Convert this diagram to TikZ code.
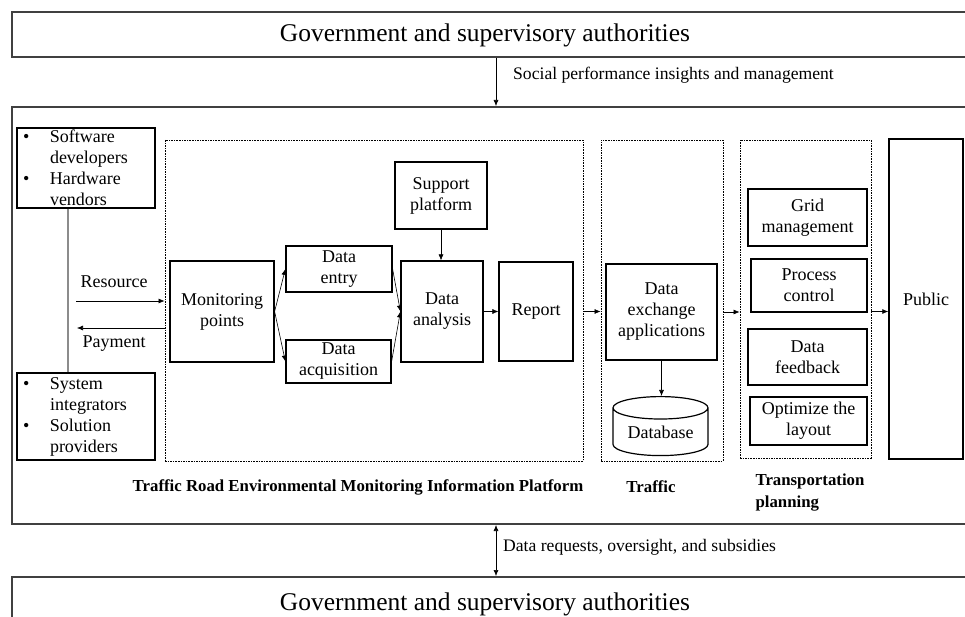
\documentclass[tikz,border=0pt]{standalone}
\usepackage{fontspec}
\setmainfont{Liberation Serif}
\usetikzlibrary{arrows.meta,shapes.geometric}

\newcommand{\bxfont}{\fontsize{18}{21}\selectfont}
\newcommand{\govfont}{\fontsize{25.5}{28}\selectfont}
\newcommand{\capfont}{\fontsize{16.8}{22}\selectfont\bfseries}

\tikzset{govbox/.style={draw=black!75, line width=2pt, inner sep=0pt}}
\tikzset{blk/.style={draw, line width=1.2pt, inner sep=0pt, align=center, font=\bxfont}}
\tikzset{zone/.style={draw, line width=0.9pt, dash pattern=on 1.6pt off 1pt, inner sep=0pt}}
\tikzset{arr/.style={-{Latex[length=6pt, width=5pt]}, line width=0.6pt}}
\tikzset{darr/.style={{Latex[length=6pt, width=5pt]}-{Latex[length=6pt, width=5pt]}, line width=0.6pt}}
\tikzset{gline/.style={line width=1.2pt, color=black!45}}
\tikzset{lbl/.style={inner sep=0pt, font=\bxfont}}
\tikzset{who/.style={blk, align=left, text width=126pt, minimum width=138pt}}

\begin{document}
\begin{tikzpicture}[x=1pt, y=-1pt]
        \useasboundingbox (0,0) rectangle (965,617);

        \node[govbox, minimum width=963pt, minimum height=45pt] (gtop) at (493.5, 34.5) {};
        \node[font=\govfont] (gtoptxt) at (485, 35) {Government and supervisory authorities};
        \node[govbox, minimum width=963pt, minimum height=417pt] (outer) at (493.5, 315.5) {};
        \node[govbox, minimum width=963pt, minimum height=63pt] (gbot) at (493.5, 608.5) {};
        \node[font=\govfont] (gbottxt) at (485, 604) {Government and supervisory authorities};

        \coordinate (link) at (496, 0);
        \draw [arr] (gtop.south -| link) -- (outer.north -| link);
        \node[lbl, anchor=west, font=\fontsize{17.6}{21}\selectfont] (soc) at (513, 75) {Social performance insights and management};
        \draw [darr] (outer.south -| link) -- (gbot.north -| link);
        \node[lbl, anchor=west, font=\fontsize{17.6}{21}\selectfont] (req) at (503, 547) {Data requests, oversight, and subsidies};

        % suppliers
        \node[who, minimum height=80pt] (devs) at (86, 168)
            {\makebox[27pt][l]{\textbullet}Software\\\hspace*{27pt}developers\\\makebox[27pt][l]{\textbullet}Hardware\\\hspace*{27pt}vendors};
        \node[who, minimum height=87pt] (integ) at (86, 416.5)
            {\makebox[27pt][l]{\textbullet}System\\\hspace*{27pt}integrators\\\makebox[27pt][l]{\textbullet}Solution\\\hspace*{27pt}providers};
        \draw [gline] ([xshift=-18pt]devs.south) -- ([xshift=-18pt]integ.north);

        % platform
        \node[zone, minimum width=418pt, minimum height=321pt] (plat) at (374, 300.5) {};
        \node[blk, minimum width=104pt, minimum height=101pt] (mon) at (222, 311.5) {Monitoring\\points};
        \node[blk, minimum width=106pt, minimum height=46pt] (entry) at (339, 269) {Data\\entry};
        \node[blk, minimum width=105pt, minimum height=43pt] (acq) at (338.5, 361.5) {Data\\acquisition};
        \node[blk, minimum width=92pt, minimum height=67pt] (support) at (441, 195.5) {Support\\platform};
        \node[blk, minimum width=82pt, minimum height=101pt] (analysis) at (442, 311.5) {Data\\analysis};
        \node[blk, minimum width=74pt, minimum height=99pt] (report) at (536, 311.5) {Report};

        \coordinate (res) at (76, 301);
        \coordinate (pay) at (77, 328);
        \draw [arr] (res) -- (res -| plat.west);
        \node[lbl] (restxt) at (114, 282) {Resource};
        \draw [arr] (pay -| plat.west) -- (pay);
        \node[lbl] (paytxt) at (114, 344) {Payment};

        \draw [arr] (mon.east) -- (entry.west);
        \draw [arr] (mon.east) -- (acq.west);
        \draw [arr] (entry.east) -- (analysis.west);
        \draw [arr] (acq.east) -- (analysis.west);
        \draw [arr] (support.south) -- (support.south |- analysis.north);
        \draw [arr] (analysis.east) -- (report.west);

        % traffic
        \node[zone, minimum width=122pt, minimum height=321pt] (traffic) at (662, 300.5) {};
        \node[blk, minimum width=111pt, minimum height=96pt] (dex) at (661.5, 312) {Data\\exchange\\applications};
        \node[blk, cylinder, shape border rotate=90, aspect=0.34, minimum width=95pt, minimum height=59pt] (db) at (660.5, 432) {Database};
        \draw [arr] (dex.south) -- (dex.south |- db.north);

        % planning
        \node[zone, minimum width=131pt, minimum height=318pt] (plan) at (805.5, 299) {};
        \node[blk, minimum width=119pt, minimum height=57pt] (grid) at (807.5, 217.5) {Grid\\management};
        \node[blk, minimum width=116pt, minimum height=53pt] (proc) at (809, 285.5) {Process\\control};
        \node[blk, minimum width=119pt, minimum height=56pt] (feed) at (807.5, 357) {Data\\feedback};
        \node[blk, minimum width=117pt, minimum height=48pt] (opt) at (808.5, 421) {Optimize the\\layout};
        \node[blk, line width=1.5pt, minimum width=74pt, minimum height=320pt] (public) at (926, 299) {Public};

        \draw [arr] (report.east -| plat.east) -- (report.east -| traffic.west);
        \draw [arr] (traffic.east |- dex) -- (plan.west |- dex);
        \draw [arr] (plan.east |- report) -- (public.west |- report);

        \node[font=\capfont] (platcap) at (358, 487) {Traffic Road Environmental Monitoring Information Platform};
        \node[font=\capfont] (trafcap) at (651, 487) {Traffic};
        \node[font=\capfont, align=left, anchor=west] (plancap) at (752, 493) {Transportation\\planning};

    \end{tikzpicture}
\end{document}
